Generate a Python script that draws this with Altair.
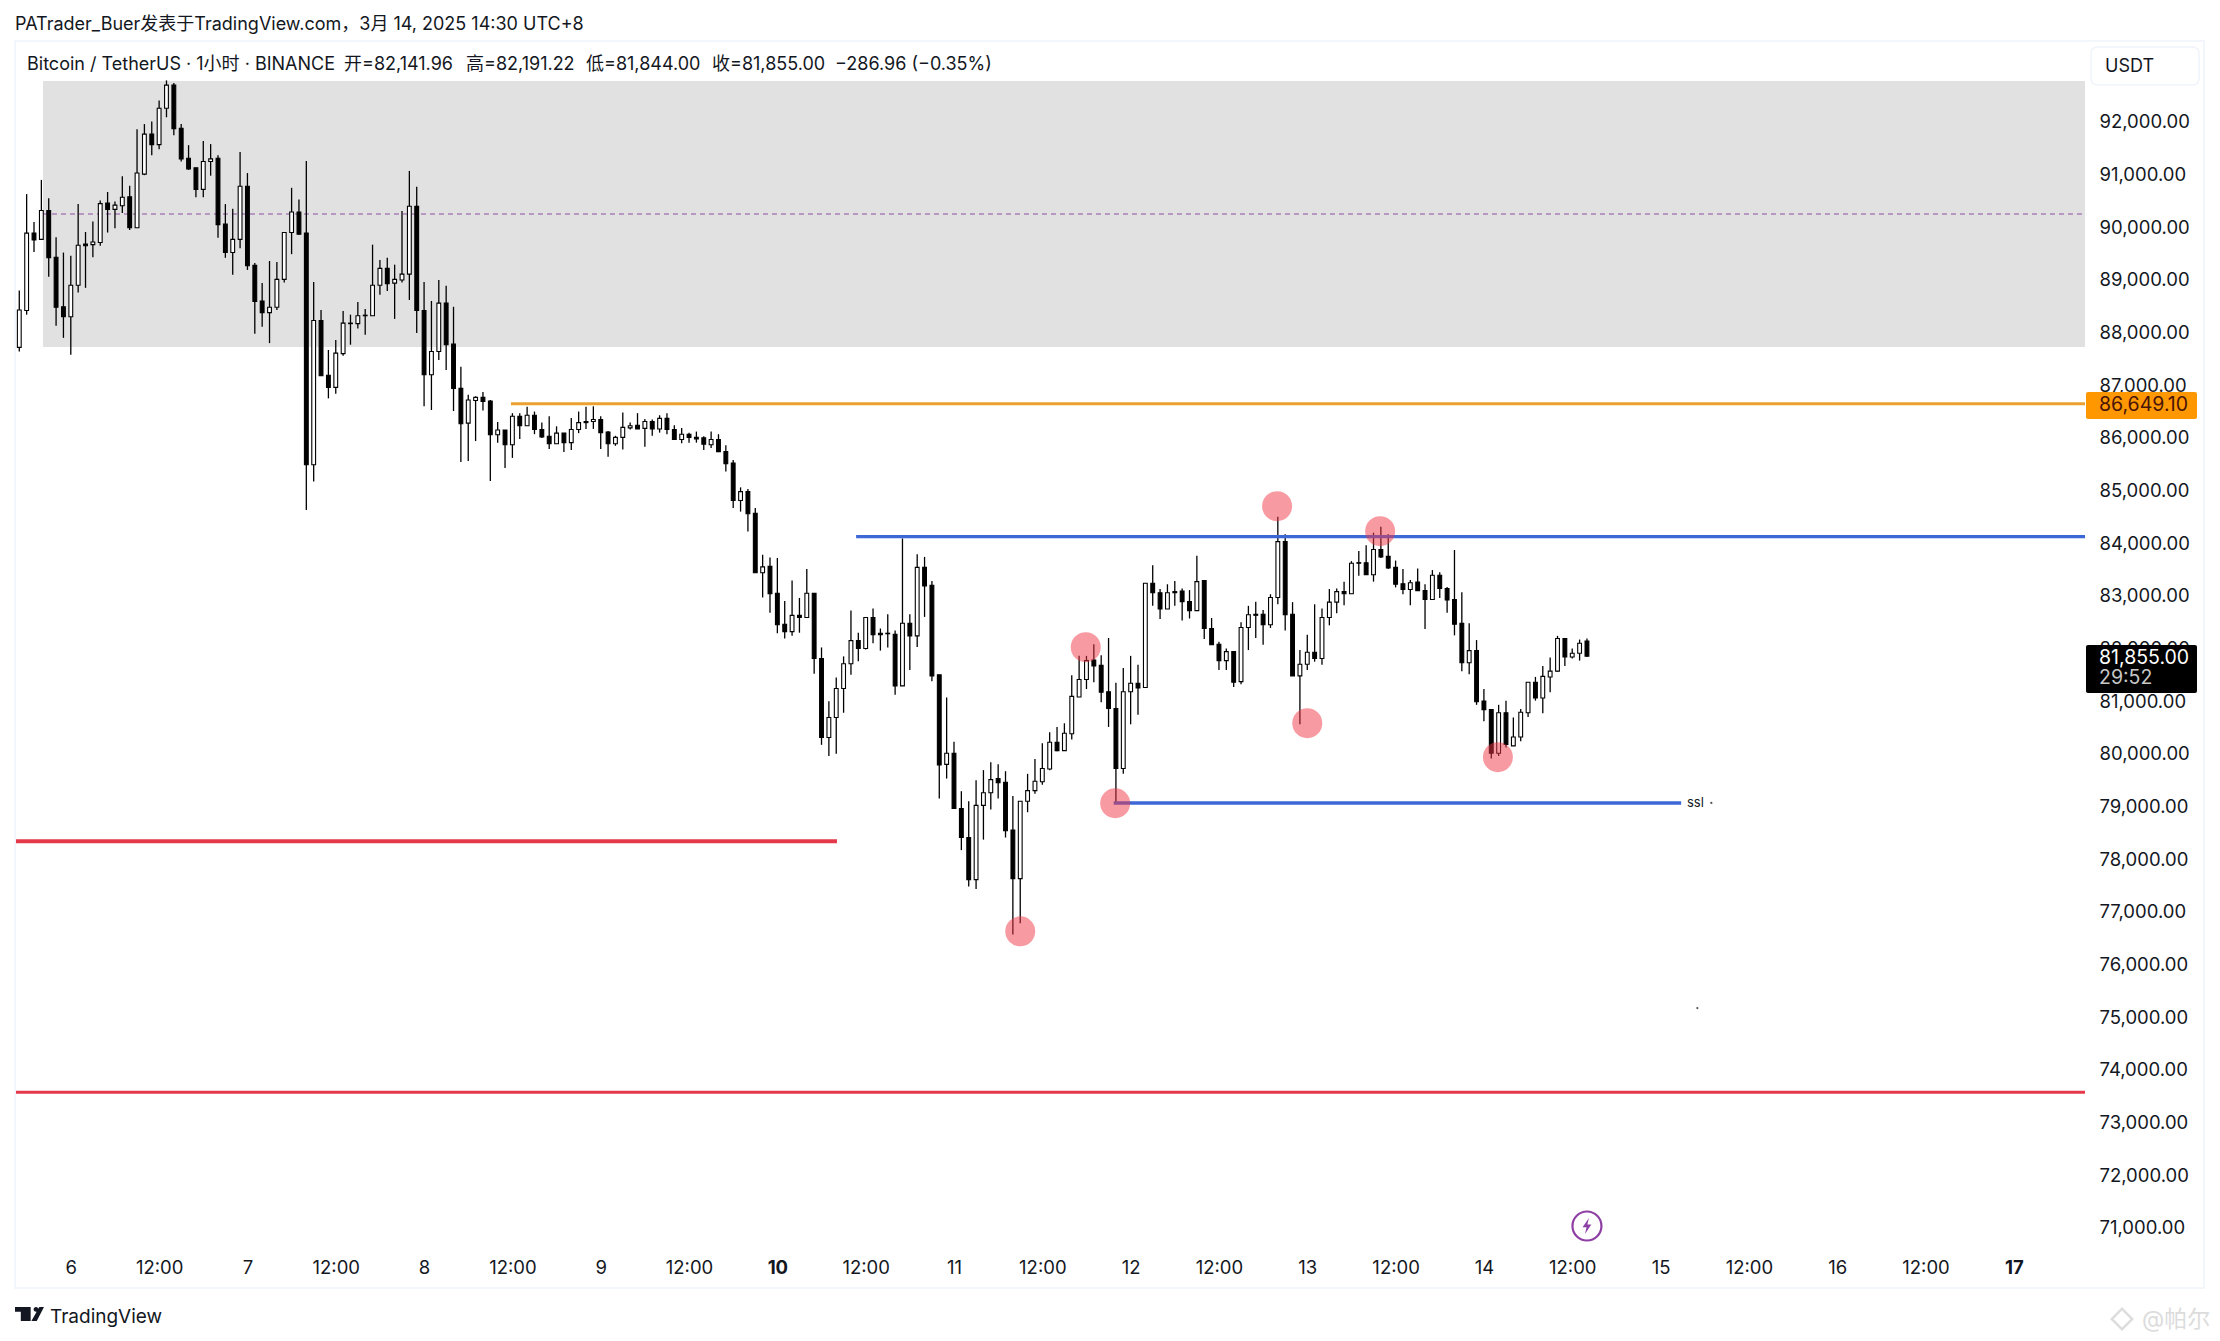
import altair as alt
import pandas as pd

opens = [87720,88420,89890,89770,90320,89430,88490,88300,88900,89680,
89670,89710,90460,90340,90410,90580,89990,91010,91770,91570,
92260,92700,91880,91310,91130,90720,91250,91310,90060,89520,
89770,90780,89280,88600,88380,88480,89010,89900,90290,89890,
85490,88230,87190,86960,87600,88170,88170,88320,88320,88900,
89220,88940,89000,89110,90400,88420,87200,87640,88560,87780,
86940,86280,86710,86770,86700,86060,86150,85870,86410,86230,
86430,86160,86030,85890,86090,85910,86160,86310,86310,86350,
86110,85890,86010,86190,86240,86180,86310,86170,86370,86160,
85970,86070,86010,86000,85870,85970,85740,85520,84810,84980,
84570,83440,83560,83050,82460,82320,82630,82590,83050,81810,
80310,80690,81240,81710,82150,82000,82590,82290,82280,82270,
81290,82480,82240,83540,83200,81500,79800,80010,78960,78410,
77610,79020,79260,79530,79460,78550,77630,79100,79300,79470,
79710,80220,80060,80380,81080,81410,81780,81680,81180,80860,
79720,81180,81340,81260,83240,83060,82750,83080,83090,82890,
82720,83290,82380,82080,81770,81940,81370,82400,82630,82650,
82450,82970,84030,82650,81480,81700,81930,81810,82590,82880,
83080,83040,83630,83630,83400,83880,83750,83540,83230,83120,
83260,83100,82930,83390,83140,82930,82480,81730,81960,81000,
80840,80010,80780,80150,80320,80780,81360,81060,81460,81570,
82190,81840,81910,82141.96]

closes = [88430,89890,89760,90320,89420,88480,88300,88900,89660,89650,
89720,90450,90340,90420,90570,89990,91030,91770,91570,92260,
92700,91870,91300,91110,90720,91250,91300,90050,89520,89770,
90780,89270,88590,88380,88480,89010,89900,90290,89870,85490,
88230,87180,86960,87610,88180,88180,88320,88330,88900,89220,
88930,89010,89110,90400,88420,87200,87640,88560,87770,86940,
86270,86720,86770,86690,86060,86150,85870,86410,86230,86430,
86160,86020,85890,86090,85910,86160,86290,86290,86350,86100,
85890,86010,86200,86230,86170,86310,86170,86370,86160,85970,
86070,86010,85980,85880,85970,85740,85510,84810,84980,84560,
83440,83550,83040,82450,82320,82630,82590,83050,81810,80310,
80690,81240,81710,82150,82000,82590,82260,82260,82290,81290,
82480,82240,83540,83190,81480,79790,80010,78960,78410,77610,
79020,79260,79510,79450,78540,77630,79100,79300,79480,79720,
80220,80060,80390,81090,81410,81770,81670,81170,80860,79720,
81180,81340,81250,83240,83060,82750,83060,83060,82890,82720,
83270,82380,82070,81770,81940,81360,82400,82640,82650,82450,
82970,84030,82640,81480,81700,81930,81810,82590,82880,83080,
83040,83620,83620,83400,83880,83740,83530,83220,83120,83250,
83100,82930,83390,83140,82920,82460,81730,81960,80990,80840,
80010,80780,80180,80320,80790,81360,81060,81470,81570,82190,
81840,81910,82100,81855]

highs = [88800,90630,90100,90900,90550,89810,89520,89460,90440,89910,
90110,90510,90670,90490,90970,90790,91860,91960,92010,92410,
92790,92740,91960,91560,91130,91640,91580,91370,90440,90350,
91430,91030,89320,88940,89360,89340,89910,90750,90530,91260,
88960,88430,87670,87860,88410,88340,88580,88450,89670,89380,
89420,89290,90310,91070,90770,88960,88600,89000,88890,88490,
87350,86820,86790,86870,86720,86300,86150,86470,86470,86590,
86500,86290,86410,86220,86090,86380,86500,86590,86600,86410,
86130,86040,86480,86290,86470,86360,86350,86430,86470,86240,
86190,86100,86120,86030,86120,86070,85860,85580,85060,85030,
84670,83780,83730,83720,82900,83290,82960,83510,83050,82020,
81000,81450,81850,82720,82300,82600,82760,82380,82650,82340,
84090,82650,83790,83740,83280,81500,81070,80230,79290,79100,
79500,79690,79840,79800,79670,79200,79100,79620,79900,80200,
80410,80510,80580,81490,81860,81860,82080,81870,82200,81350,
81630,81860,81690,83240,83580,83130,83220,83280,83140,83110,
83760,83290,82580,82130,82000,81950,82500,82810,82890,82730,
83030,84500,84170,82880,81970,82260,82840,82760,83130,83140,
83270,83660,83850,83960,84200,84310,84170,83670,83510,83300,
83520,83220,83490,83450,83170,83870,83070,82480,82160,81230,
80840,80930,81010,80690,80850,81360,81460,81670,81830,82240,
82200,82000,82170,82191.22]

lows = [87640,88340,89530,89760,89060,88130,87900,87580,88760,88850,
89430,89650,89900,89980,90270,89950,89990,90990,91370,91480,
92090,91750,91250,91090,90570,90570,90980,89800,89420,89100,
89600,89190,87980,88110,87800,88430,88950,89490,89860,84630,
85170,87180,86750,86840,87560,87770,88080,87960,88320,88720,
88790,88260,88950,88620,87990,86600,86530,87480,87290,86510,
85540,85560,85940,86520,85180,85910,85430,85620,85980,86230,
86070,86000,85790,85890,85730,85770,86090,86170,86170,85790,
85640,85850,85780,86160,86170,85830,86040,86100,86070,85960,
85900,85910,85910,85770,85810,85730,85360,84670,84600,84220,
83440,82970,82680,82290,82190,82240,82300,82590,81520,80170,
79960,80000,80780,81500,81760,81980,82100,81960,82020,81120,
81290,81590,82030,82600,81380,79150,79530,78960,78170,77480,
77430,78370,78940,79150,78410,76570,76780,78890,79240,79410,
79690,80050,80060,80270,81080,81230,81360,80980,80510,79060,
79620,80560,80740,81260,82810,82560,82750,82810,82530,82570,
82720,82180,82070,81590,81590,81270,81320,81970,82200,82070,
82390,82840,82340,81480,80560,81590,81750,81690,82440,82670,
82820,83040,83380,83400,83270,83720,83510,83160,83030,82820,
83100,82370,82930,82960,82680,82250,81570,81510,80930,80620,
79910,79960,80120,80150,80240,80700,81010,80770,81170,81560,
81670,81810,81770,81844]

# hours counted from 6 March 00:00 (UTC+8); one bar per hour
hours = list(range(-7, 207))

marker_hours = [137.9, 141.9, 129, 163.9, 177.9, 168, 193.9]
marker_prices = [82025, 79061, 76629, 84704, 84229, 80581, 79935]

price_ticks = list(range(71000, 93000, 1000))
time_ticks = list(range(0, 276, 12))

HOUR_MIN, HOUR_MAX = -7.446, 273.67
PRICE_MIN, PRICE_MAX = 70576, 93538

ZONE = (-3.78, HOUR_MAX, 87725, 92779)
MID_LEVEL = 90252
ORANGE_LEVEL = (59.8, HOUR_MAX, 86649.10)
BLUE_HIGH = (106.7, HOUR_MAX, 84125)
BLUE_LOW = (141.7, 218.8, 79067)
RED_HIGH = (HOUR_MIN, 104.1, 78339)
RED_LOW = (HOUR_MIN, HOUR_MAX, 73570)
EVENT = (206, 71032)
DOTS_H = [222.9, 221]
DOTS_P = [79067, 75172]

FONT = "Inter, 'Noto Sans CJK SC', sans-serif"
INK = "#131722"

xs = alt.Scale(domain=[HOUR_MIN, HOUR_MAX], nice=False, zero=False, padding=0)
ys = alt.Scale(domain=[PRICE_MIN, PRICE_MAX], nice=False, zero=False, padding=0)
EMPTY = alt.Data(values=[{}])

x_axis = alt.Axis(
    values=time_ticks, title=None, domain=False, ticks=False, grid=False,
    labelFont=FONT, labelFontSize=18.5, labelColor=INK, labelPadding=8,
    labelOverlap=False, labelFlush=False,
    labelExpr="datum.value % 24 === 0 ? toString(6 + datum.value / 24) : '12:00'",
    labelFontWeight=alt.expr("datum.value === 96 || datum.value === 264 ? 700 : 400"),
)
y_axis = alt.Axis(
    values=price_ticks, orient="right", title=None, domain=False, ticks=False, grid=False,
    format=",.2f", labelFont=FONT, labelFontSize=18.5, labelColor=INK, labelAlign="left",
    labelPadding=14, labelOverlap=False, labelFlush=False,
)


def X(f):
    return alt.X(f, type="quantitative", scale=xs, axis=x_axis)


def Y(f):
    return alt.Y(f, type="quantitative", scale=ys, axis=y_axis)


def segment(spec, color, width, dash=None):
    kw = dict(color=color, strokeWidth=width)
    if dash:
        kw["strokeDash"] = dash
    d = pd.DataFrame({"a": [spec[0]], "b": [spec[1]], "p": [spec[2]]})
    return alt.Chart(d).mark_rule(**kw).encode(x=X("a"), x2="b", y=Y("p"))


def label(text, px, py, size=18, color=INK, align="left", weight="normal", **extra):
    return alt.Chart(EMPTY).mark_text(
        text=text, font=FONT, fontSize=size, color=color, align=align,
        baseline="middle", fontWeight=weight, **extra
    ).encode(x=alt.value(px - 16), y=alt.value(py - 40))


def box(x0, y0, x1, y1, **mk):
    return alt.Chart(EMPTY).mark_rect(**mk).encode(
        x=alt.value(x0 - 16), x2=alt.value(x1 - 16),
        y=alt.value(y0 - 41), y2=alt.value(y1 - 41))


def glyph(path, px, py, side, **mk):
    return alt.Chart(EMPTY).mark_point(shape=path, size=side * side, **mk).encode(
        x=alt.value(px - 16), y=alt.value(py - 41))


df = pd.DataFrame({"h": hours, "o": opens, "hi": highs, "lo": lows, "c": closes})
df["top"] = df[["o", "c"]].max(axis=1)
df["bot"] = df[["o", "c"]].min(axis=1)
df["dir"] = ["up" if c >= o else "down" for o, c in zip(opens, closes)]

zone = alt.Chart(pd.DataFrame({"a": [ZONE[0]], "b": [ZONE[1]], "p": [ZONE[2]], "q": [ZONE[3]]})).mark_rect(
    color="#e1e1e2"
).encode(x=X("a"), x2="b", y=Y("p"), y2="q")

wicks = alt.Chart(df).mark_rule(color="#000000", strokeWidth=1.3).encode(
    x=X("h"), y=Y("lo"), y2="hi:Q",
)
bodies = alt.Chart(df).mark_bar(
    size=3.8, orient="vertical", stroke="#000000", strokeWidth=1.1
).encode(
    x=X("h"), y=Y("bot"), y2="top:Q",
    fill=alt.Fill("dir:N", scale=alt.Scale(domain=["up", "down"], range=["#ffffff", "#000000"]), legend=None),
)

markers = alt.Chart(pd.DataFrame({"h": marker_hours, "p": marker_prices})).mark_circle(
    color="#f23645", opacity=0.5, size=900
).encode(x=X("h"), y=Y("p"))

dots = alt.Chart(pd.DataFrame({"h": DOTS_H, "p": DOTS_P})).mark_circle(
    color="#555555", opacity=1, size=5
).encode(x=X("h"), y=Y("p"))

event_d = pd.DataFrame({"h": [EVENT[0]], "p": [EVENT[1]]})
event_ring = alt.Chart(event_d).mark_point(
    shape="circle", size=840, filled=False, stroke="#8e3fa3", strokeWidth=2.2, opacity=1
).encode(x=X("h"), y=Y("p"))
event_bolt = alt.Chart(event_d).mark_point(
    shape="M0.25 -1 L-0.55 0.15 H-0.05 L-0.25 1 L0.55 -0.2 H0.05 Z",
    size=256, filled=True, fill="#8e3fa3", stroke="#8e3fa3", strokeWidth=0, opacity=1
).encode(x=X("h"), y=Y("p"))

TV_LOGO = ("M-1 -.49 H.08 V.49 H-.6 V-.15 H-1 Z "
           "M.28 -.32 A.17 .17 0 1 1 .62 -.32 A.17 .17 0 1 1 .28 -.32 Z "
           "M.68 -.49 H1 L.5 .49 H.13 Z")
WM_ICON = "M0 -1 L1 0 L0 1 L-1 0 Z M0 -.7 L-.7 0 L0 .7 L.7 0 Z"

layers = [
    box(15, 41, 2204, 1288, fill="#ffffff", fillOpacity=0, stroke="#f0f3fa", strokeWidth=1.5),
    zone,
    segment((ZONE[0], HOUR_MAX, MID_LEVEL), "#8e4fa0", 1, [5, 4]),
    wicks, bodies,
    segment(ORANGE_LEVEL, "#eba02f", 3),
    segment(BLUE_HIGH, "#3d67d6", 3.4),
    segment(BLUE_LOW, "#3d67d6", 3.4),
    segment(RED_HIGH, "#e5384a", 3.8),
    segment(RED_LOW, "#e5384a", 3),
    markers, dots, event_ring, event_bolt,
    label("ssl", 1687, 802, size=13),
    # header
    label("PATrader_Buer发表于TradingView.com，3月 14, 2025 14:30 UTC+8", 15, 24, size=18),
    label("Bitcoin / TetherUS · 1小时 · BINANCE", 27, 64, size=18),
    label("开=82,141.96", 344, 64, size=18),
    label("高=82,191.22", 466, 64, size=18),
    label("低=81,844.00", 586, 64, size=18),
    label("收=81,855.00", 712, 64, size=18),
    label("−286.96 (−0.35%)", 835, 64, size=18),
    # currency button
    box(2091, 47, 2199, 85, fill="#ffffff", stroke="#f0f3fa", strokeWidth=1.5, cornerRadius=6),
    label("USDT", 2105, 66, size=18),
    # price tags
    box(2086, 392, 2197, 419, fill="#ff9800", cornerRadius=2),
    label("86,649.10", 2099, 404, size=19.5, color="#4a1408"),
    box(2086, 645, 2197, 693, fill="#000000", cornerRadius=2),
    label("81,855.00", 2099, 657, size=19.5, color="#ffffff"),
    label("29:52", 2099, 677, size=19.5, color="#c8c8c8"),
    # footer
    glyph(TV_LOGO, 29.5, 1314, 29, filled=True, fill="#131722", strokeWidth=0, opacity=1),
    label("TradingView", 50, 1316, size=19),
    glyph(WM_ICON, 2122, 1319, 24, filled=True, fill="#dddddd", strokeWidth=0, opacity=1),
    label("@帕尔", 2142, 1319, size=23, color="#dcdcdc"),
]

chart = alt.layer(*layers).properties(
    width=2069, height=1209,
    autosize=alt.AutoSizeParams(type="none"),
    padding={"left": 8, "top": 33, "right": 127, "bottom": 83},
    background="#ffffff",
).configure_view(stroke=None)

chart.save("out.html", embed_options={"renderer": "svg", "actions": False})
